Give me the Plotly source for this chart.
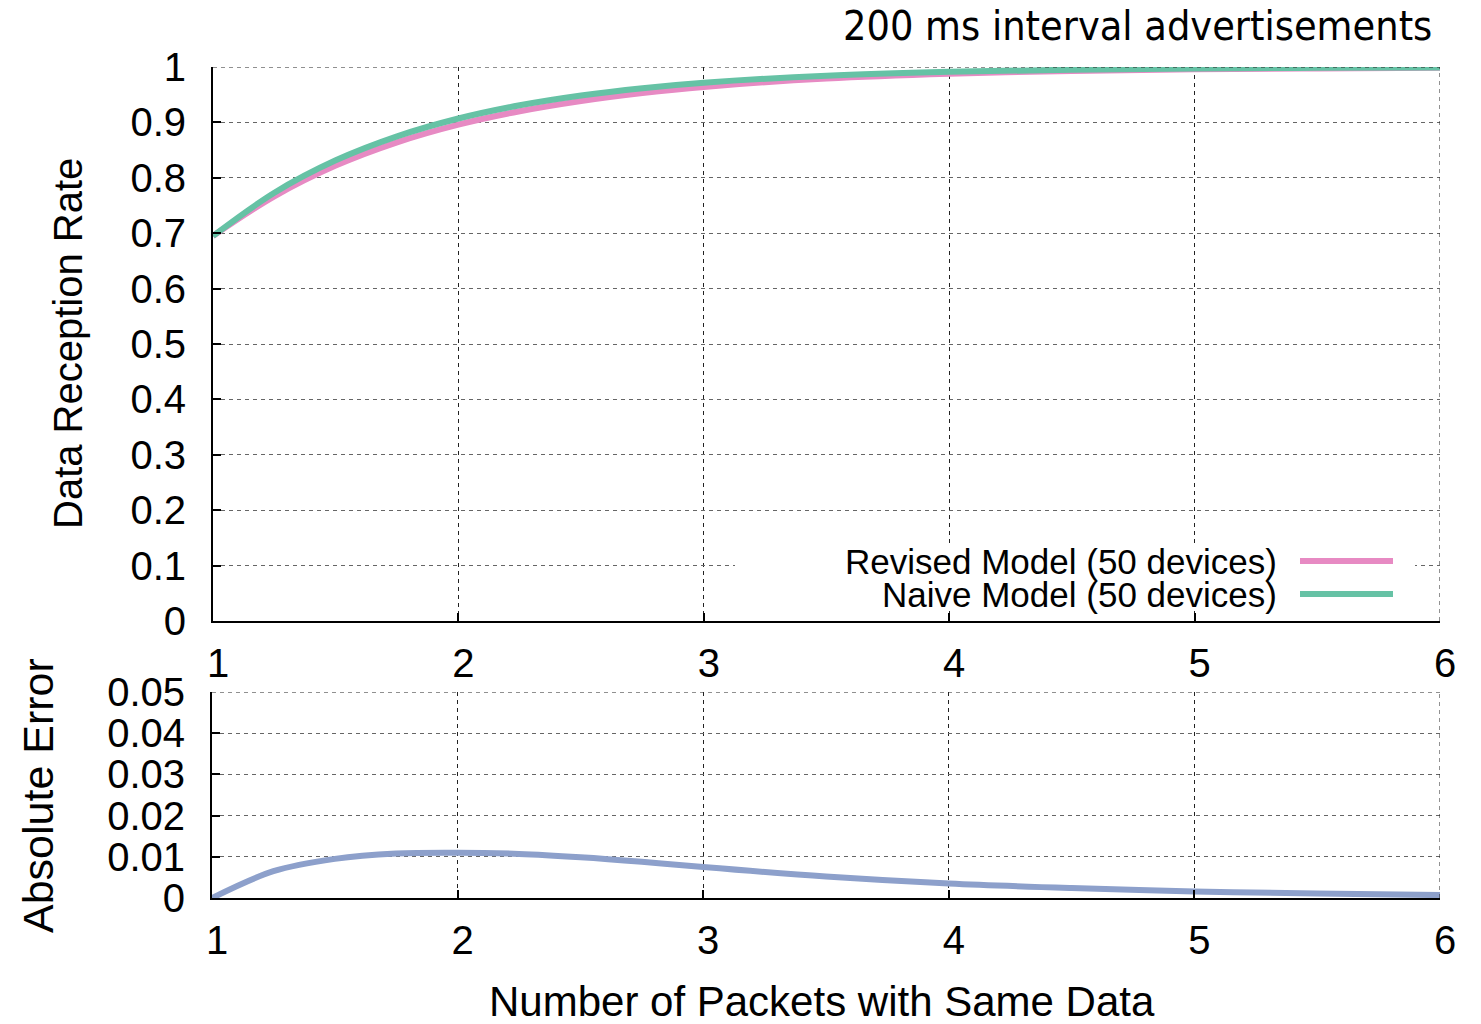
import plotly.graph_objects as go
from plotly.subplots import make_subplots

# Number of packets carrying the same data
packets = [1, 1.25, 1.5, 1.75, 2, 2.25, 2.5, 2.75, 3, 3.5, 4, 4.5, 5, 5.5, 6]

# Data reception rate for the two models (50 devices)
revised_rate = [0.695, 0.7665, 0.822, 0.864, 0.896, 0.9202, 0.9387, 0.953, 0.9641,
                0.9791, 0.9878, 0.9928, 0.9958, 0.9974, 0.9985]
naive_rate = [0.695, 0.773, 0.8315, 0.8748, 0.907, 0.9309, 0.9486, 0.9618, 0.9716,
              0.9843, 0.9913, 0.9952, 0.9974, 0.9985, 0.9992]

# Absolute error between the two models
abs_error = [0, 0.0065, 0.0095, 0.0108, 0.011, 0.0107, 0.0099, 0.0088, 0.0075,
             0.0052, 0.0035, 0.0024, 0.0016, 0.0011, 0.0007]

x_ticks = [1, 2, 3, 4, 5, 6]
rate_ticks = [0, 0.1, 0.2, 0.3, 0.4, 0.5, 0.6, 0.7, 0.8, 0.9, 1]
rate_tick_text = ["0", "0.1", "0.2", "0.3", "0.4", "0.5", "0.6", "0.7", "0.8", "0.9", "1"]
err_ticks = [0, 0.01, 0.02, 0.03, 0.04, 0.05]
err_tick_text = ["0", "0.01", "0.02", "0.03", "0.04", "0.05"]

PINK = "#e78ac3"
GREEN = "#66c2a5"
BLUE = "#8da0cb"
FONT = "Liberation Sans, Arial, sans-serif"

W, H = 1481, 1024


def px_x(p):
    return p / W


def px_y(p):
    return 1 - p / H


fig = make_subplots(rows=2, cols=1)

fig.add_trace(go.Scatter(x=packets, y=revised_rate, mode="lines", line_shape="spline",
                         line=dict(color=PINK, width=6), name="Revised Model (50 devices)",
                         showlegend=False), row=1, col=1)
fig.add_trace(go.Scatter(x=packets, y=naive_rate, mode="lines", line_shape="spline",
                         line=dict(color=GREEN, width=6), name="Naive Model (50 devices)",
                         showlegend=False), row=1, col=1)
fig.add_trace(go.Scatter(x=packets, y=abs_error, mode="lines", line_shape="spline",
                         line=dict(color=BLUE, width=6), name="Absolute Error",
                         showlegend=False), row=2, col=1)

common_axis = dict(
    showline=True, linecolor="black", linewidth=2,
    ticks="inside", ticklen=8, tickcolor="black", tickwidth=1.5,
    showgrid=True, gridwidth=1, griddash="4px,4px",
    zeroline=False, automargin=False,
    tickfont=dict(family=FONT, size=40, color="black"),
)

fig.update_xaxes(range=[1, 6], tickvals=x_ticks, gridcolor="#222",
                 ticklabelstandoff=6, ticklabelshift=5, **common_axis)
fig.update_yaxes(gridcolor="#666", ticklabelstandoff=17, **common_axis)

fig.update_layout(
    xaxis=dict(domain=[px_x(213), px_x(1440)]),
    xaxis2=dict(domain=[px_x(212), px_x(1440)]),
    yaxis=dict(domain=[px_y(621), px_y(67)], range=[0, 1],
               tickvals=rate_ticks, ticktext=rate_tick_text),
    yaxis2=dict(domain=[px_y(898), px_y(692)], range=[0, 0.05],
                tickvals=err_ticks, ticktext=err_tick_text),
    width=W, height=H,
    margin=dict(l=0, r=0, t=0, b=0),
    paper_bgcolor="white", plot_bgcolor="white",
    showlegend=False,
    font=dict(family=FONT, color="black"),
)


def label(text, x, y, size, family=FONT, angle=0, xanchor="center"):
    return dict(text=text, x=px_x(x), y=px_y(y), xref="paper", yref="paper",
                xanchor=xanchor, yanchor="middle", showarrow=False, textangle=angle,
                borderpad=0, font=dict(family=family, size=size, color="black"))


annotations = [
    label("200 ms interval advertisements", 1433, 26, 41,
          family="DejaVu Sans Condensed, DejaVu Sans, sans-serif", xanchor="right"),
    label("Data Reception Rate", 68, 344, 40, angle=-90),
    label("Absolute Error", 38, 796, 43, angle=-90),
    label("Number of Packets with Same Data", 822, 1001, 42),
    label("Revised Model (50 devices)", 1278, 561, 35, xanchor="right"),
    label("Naive Model (50 devices)", 1278, 594, 35, xanchor="right"),
]
fig.update_layout(annotations=annotations)

border = dict(color="#222", width=1, dash="4px,4px")
shapes = [
    # dashed top and right frame edges of both panels
    dict(type="line", xref="x", yref="y", x0=1, x1=6, y0=1, y1=1, line=border),
    dict(type="line", xref="x", yref="y", x0=6, x1=6, y0=0, y1=1, line=border),
    dict(type="line", xref="x2", yref="y2", x0=1, x1=6, y0=0.05, y1=0.05, line=border),
    dict(type="line", xref="x2", yref="y2", x0=6, x1=6, y0=0, y1=0.05, line=border),
    # opaque key box hiding the grid behind the key
    dict(type="rect", xref="paper", yref="paper",
         x0=px_x(735), x1=px_x(1415), y0=px_y(610), y1=px_y(545),
         fillcolor="white", line=dict(width=0), layer="above"),
    # key samples
    dict(type="line", xref="paper", yref="paper",
         x0=px_x(1300), x1=px_x(1393), y0=px_y(561), y1=px_y(561),
         line=dict(color=PINK, width=6), layer="above"),
    dict(type="line", xref="paper", yref="paper",
         x0=px_x(1300), x1=px_x(1393), y0=px_y(594), y1=px_y(594),
         line=dict(color=GREEN, width=6), layer="above"),
]
fig.update_layout(shapes=shapes)

fig.write_html("out.html")
